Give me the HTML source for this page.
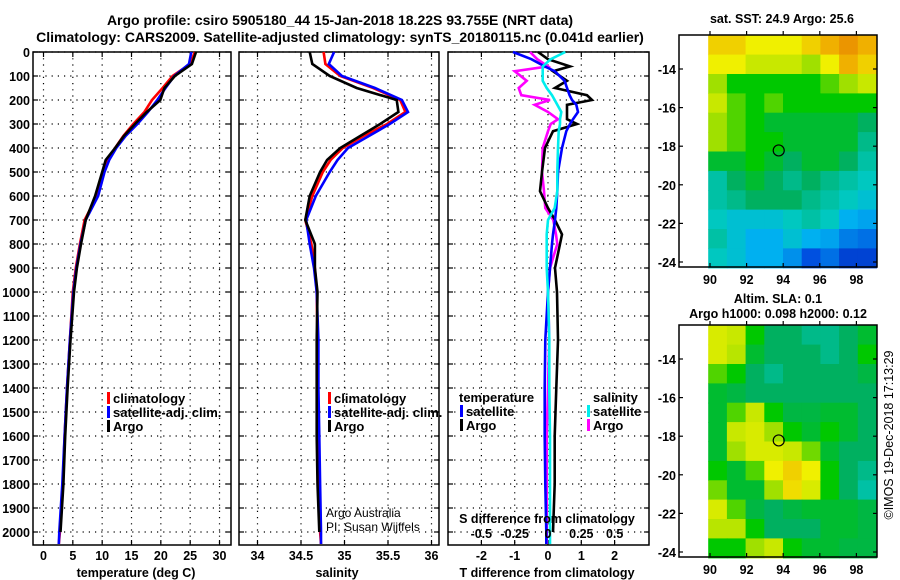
<!DOCTYPE html>
<html><head><meta charset="utf-8">
<style>
html,body{margin:0;padding:0;background:#fff;}
svg{display:block;font-family:"Liberation Sans",sans-serif;}
.b{font-weight:bold;}
</style></head>
<body>
<svg id="fig" width="900" height="580" viewBox="0 0 900 580" xmlns="http://www.w3.org/2000/svg">
<text x="340" y="25" text-anchor="middle" class="b" font-size="14">Argo profile: csiro 5905180_44 15-Jan-2018 18.22S 93.755E (NRT data)</text>
<text x="340" y="42" text-anchor="middle" class="b" font-size="14">Climatology: CARS2009. Satellite-adjusted climatology: synTS_20180115.nc (0.041d earlier)</text>
<g id="g"></g>
</svg>
<script>
// ---------- data ----------
const depths = [0,50,100,150,200,250,300,350,400,450,500,600,700,800,900,1000,1200,1400,1600,1800,2000,2050];
const tempClim = [25.8,25.0,22.0,20.3,18.5,17.2,15.3,13.6,12.2,11.0,10.2,9.1,7.0,6.2,5.5,5.0,4.5,4.0,3.6,3.3,2.8,2.6];
const tempSat  = [25.2,24.8,22.3,20.8,19.4,17.8,16.0,14.0,12.4,11.2,10.4,9.3,7.2,6.3,5.6,5.1,4.5,4.0,3.6,3.2,2.7,2.6];
const tempArgo = [26.0,25.3,22.4,20.6,19.9,17.6,15.6,13.7,12.2,10.6,10.0,8.8,7.2,6.4,5.7,5.2,4.6,4.1,3.7,3.4,2.9,null];
const salClim = [34.76,34.78,34.95,35.33,35.64,35.70,35.49,35.22,34.98,34.84,34.75,34.63,34.55,34.62,34.66,34.68,34.69,34.69,34.70,34.71,34.72,34.73];
const salSat  = [34.88,34.82,34.97,35.35,35.66,35.73,35.52,35.28,35.04,34.92,34.83,34.67,34.56,34.60,34.65,34.68,34.70,34.70,34.71,34.72,34.73,34.73];
const salArgo = [34.60,34.63,34.83,35.14,35.60,35.62,35.41,35.18,34.95,34.80,34.72,34.60,34.55,34.66,34.66,34.69,34.68,34.68,34.68,34.69,34.71,null];
const dDepths = [0,30,60,80,120,150,180,200,220,250,280,300,330,400,500,580,650,700,760,800,900,1000,1200,1400,1600,1800,2000,2050];
const dTsat  = [-1.05,-0.5,-0.1,0.2,0.5,0.57,0.65,0.72,0.85,0.9,0.75,0.66,0.55,0.42,0.3,0.28,0.25,0.21,0.15,0.12,0.06,0.0,-0.08,-0.1,-0.1,-0.08,-0.05,-0.05];
const dTargo = [-0.3,0.0,0.66,0.15,0.57,0.21,1.17,1.32,0.57,0.57,0.57,0.87,0.15,-0.09,-0.18,-0.24,0.0,0.21,0.42,0.36,0.21,0.27,0.3,0.25,0.2,0.2,0.15,null];
const dSargo = [-0.135,-0.08,0.0,-0.25,-0.16,-0.22,-0.2,0.015,-0.1,0.0,0.075,0.02,0.0,-0.04,-0.045,-0.03,-0.02,0.04,0.06,0.07,0.015,0.0,0.01,0.0,-0.01,-0.01,-0.01,-0.01];
const dSsat  = [0.13,0.02,-0.04,-0.04,-0.04,-0.01,0.03,0.05,0.07,0.1,0.09,0.09,0.08,0.075,0.07,0.07,0.05,0.0,-0.01,-0.01,-0.01,0.0,0.01,0.01,0.015,0.015,0.015,0.015];
const depthTicks = [0,100,200,300,400,500,600,700,800,900,1000,1100,1200,1300,1400,1500,1600,1700,1800,1900,2000];
const tTicks = [0,5,10,15,20,25,30];
const sTicks = [34,34.5,35,35.5,36];
const dtTicks = [-2,-1,0,1,2];
const dsTicks = [-0.5,-0.25,0,0.25,0.5];
const dsLabels = ["-0.5","-0.25","0","0.25","0.5"];
const latTicks = [-14,-16,-18,-20,-22,-24];
const lonTicks = [90,92,94,96,98];
const sstGrid = [
[0.8,0.8,0.75,0.75,0.75,0.8,0.85,0.9,0.85],
[0.75,0.75,0.7,0.7,0.7,0.65,0.75,0.85,0.8],
[0.65,0.55,0.55,0.55,0.55,0.55,0.6,0.65,0.7],
[0.7,0.6,0.55,0.6,0.55,0.55,0.55,0.55,0.55],
[0.65,0.6,0.55,0.5,0.5,0.5,0.5,0.5,0.45],
[0.65,0.6,0.55,0.55,0.5,0.5,0.5,0.5,0.42],
[0.5,0.5,0.55,0.5,0.45,0.5,0.5,0.45,0.4],
[0.4,0.45,0.5,0.45,0.42,0.45,0.42,0.4,0.38],
[0.4,0.42,0.45,0.45,0.45,0.42,0.4,0.38,0.35],
[0.38,0.35,0.35,0.35,0.38,0.4,0.38,0.3,0.28],
[0.4,0.35,0.3,0.3,0.35,0.3,0.28,0.22,0.2],
[0.38,0.35,0.3,0.3,0.25,0.15,0.2,0.12,0.12]];
const slaGrid = [
[0.72,0.7,0.55,0.45,0.45,0.42,0.42,0.45,0.5],
[0.72,0.68,0.5,0.45,0.45,0.45,0.42,0.45,0.55],
[0.6,0.55,0.45,0.42,0.45,0.45,0.45,0.45,0.48],
[0.5,0.48,0.45,0.45,0.45,0.45,0.45,0.45,0.45],
[0.5,0.6,0.7,0.55,0.48,0.48,0.5,0.5,0.45],
[0.5,0.7,0.72,0.65,0.55,0.5,0.55,0.5,0.45],
[0.5,0.65,0.72,0.72,0.7,0.62,0.5,0.45,0.45],
[0.55,0.5,0.6,0.75,0.8,0.75,0.55,0.45,0.42],
[0.62,0.5,0.5,0.65,0.78,0.72,0.55,0.45,0.4],
[0.72,0.6,0.48,0.45,0.48,0.5,0.5,0.5,0.48],
[0.68,0.68,0.55,0.45,0.45,0.45,0.5,0.5,0.48],
[0.55,0.55,0.65,0.7,0.55,0.5,0.5,0.48,0.48]];
const argoLon = 93.755, argoLat = -18.22;

// ---------- helpers ----------
const NS="http://www.w3.org/2000/svg";
const G=document.getElementById('g');
function mk(tag,attrs,parent){const e=document.createElementNS(NS,tag);for(const k in attrs)e.setAttribute(k,attrs[k]);(parent||G).appendChild(e);return e;}
function txt(x,y,s,size,anchor,bold,parent){const t=mk('text',{x:x,y:y,'font-size':size,'text-anchor':anchor||'middle'},parent);if(bold)t.setAttribute('font-weight','bold');t.textContent=s;return t;}
const yTop=52, yBot=545;
const yD = d => yTop + d*0.24;
const xT = t => 43.5 + t*5.867;
const xS = s => 301 + (s-34.5)*87;
const xDT = v => 548 + v*33.3;
const xDS = v => 548 + v*133.3;

function panel(name,x0,x1,gridX,showYLabels){
  const g=mk('g',{});
  
  
  depthTicks.forEach(d=>{const y=yD(d);
    mk('line',{x1:x0,x2:x1,y1:y,y2:y,stroke:'#000','stroke-width':1.2,'stroke-dasharray':'1.2,5'},g);
    mk('line',{x1:x0,x2:x0+5,y1:y,y2:y,stroke:'#000','stroke-width':1.2},g);
    mk('line',{x1:x1-5,x2:x1,y1:y,y2:y,stroke:'#000','stroke-width':1.2},g);
    if(showYLabels){const t=txt(30,y+5,String(d),12.5,'end',true,g);}
  });
  gridX.forEach(x=>{mk('line',{x1:x,x2:x,y1:yTop,y2:yBot,stroke:'#000','stroke-width':1.2,'stroke-dasharray':'1.2,5'},g);
    mk('line',{x1:x,x2:x,y1:yBot-5,y2:yBot,stroke:'#000','stroke-width':1.2},g);
    mk('line',{x1:x,x2:x,y1:yTop,y2:yTop+5,stroke:'#000','stroke-width':1.2},g);});
  mk('rect',{x:x0,y:yTop,width:x1-x0,height:yBot-yTop,fill:'none',stroke:'#000','stroke-width':1.5},g);
  return g;
}
function line(g,dep,vals,xf,color,name,w){
  let pts=[];dep.forEach((d,i)=>{if(vals[i]!==null&&vals[i]!==undefined)pts.push(xf(vals[i]).toFixed(1)+','+yD(d).toFixed(1));});
  const p=mk('polyline',{points:pts.join(' '),fill:'none',stroke:color,'stroke-width':w||2.6,'stroke-linejoin':'miter'},g);
  
  
}
function legendEntry(g,x,y,color,label,name){
  const e=mk('g',{},g);
  
  
  mk('rect',{x:x,y:y-11,width:3,height:12,fill:color},e);
  txt(x+6,y,label,13,'start',true,e);
}

// ---------- panel 1: temperature ----------
const p1=panel('temperature-panel',33,231,tTicks.map(xT),true);
line(p1,depths,tempClim,xT,'#f00','temp-climatology-line');
line(p1,depths,tempSat,xT,'#00f','temp-satellite-line');
line(p1,depths,tempArgo,xT,'#000','temp-argo-line');
tTicks.forEach(t=>txt(xT(t),560,String(t),12.5,'middle',true,p1));
txt(136,577,'temperature (deg C)',12.5,'middle',true,p1);
legendEntry(p1,107,403,'#f00','climatology','legend-entry-climatology');
legendEntry(p1,107,417,'#00f','satellite-adj. clim.','legend-entry-satellite-adj');
legendEntry(p1,107,431,'#000','Argo','legend-entry-argo');

// ---------- panel 2: salinity ----------
const p2=panel('salinity-panel',239,439,sTicks.map(xS),false);
line(p2,depths,salClim,xS,'#f00','sal-climatology-line');
line(p2,depths,salSat,xS,'#00f','sal-satellite-line');
line(p2,depths,salArgo,xS,'#000','sal-argo-line');
sTicks.forEach(s=>txt(xS(s),560,String(s),12.5,'middle',true,p2));
txt(337,577,'salinity',12.5,'middle',true,p2);
legendEntry(p2,328,403,'#f00','climatology','legend-entry-sal-climatology');
legendEntry(p2,328,417,'#00f','satellite-adj. clim.','legend-entry-sal-satellite-adj');
legendEntry(p2,328,431,'#000','Argo','legend-entry-sal-argo');
txt(326,517,'Argo Australia',12,'start',false,p2);
txt(326,531,'PI: Susan Wijffels',12,'start',false,p2);

// ---------- panel 3: differences ----------
const p3=panel('difference-panel',448,649,dtTicks.map(xDT),false);
line(p3,dDepths,dSargo,xDS,'#f0f','diff-sal-argo-line');
line(p3,dDepths,dTargo,xDT,'#000','diff-temp-argo-line');
line(p3,dDepths,dTsat,xDT,'#00f','diff-temp-satellite-line');
line(p3,dDepths,dSsat,xDS,'#0ee','diff-sal-satellite-line');
dtTicks.forEach(t=>txt(xDT(t),560,String(t),12.5,'middle',true,p3));
dsTicks.forEach((s,i)=>txt(xDS(s),538,dsLabels[i],12.5,'middle',true,p3));
txt(547,523,'S difference from climatology',12.5,'middle',true,p3);
txt(547,577,'T difference from climatology',12.5,'middle',true,p3);
txt(459,402,'temperature',13,'start',true,p3);
legendEntry(p3,460,416,'#00f','satellite','legend-entry-t-satellite');
legendEntry(p3,460,430,'#000','Argo','legend-entry-t-argo');
txt(593,402,'salinity',13,'start',true,p3);
legendEntry(p3,587,416,'#0ee','satellite','legend-entry-s-satellite');
legendEntry(p3,587,430,'#f0f','Argo','legend-entry-s-argo');

// ---------- maps ----------
const stops=[[0,[0,16,160]],[0.15,[0,80,224]],[0.3,[0,176,240]],[0.38,[0,200,192]],[0.45,[0,176,96]],[0.55,[0,200,0]],[0.65,[160,224,0]],[0.75,[240,240,0]],[0.85,[240,176,0]],[1,[224,96,0]]];
function cmap(v){for(let i=1;i<stops.length;i++){if(v<=stops[i][0]){const a=stops[i-1],b=stops[i];const f=(v-a[0])/(b[0]-a[0]);const c=a[1].map((x,k)=>Math.round(x+(b[1][k]-x)*f));return 'rgb('+c.join(',')+')';}}return 'rgb(224,96,0)';}
function mapPanel(name,top,grid){
  const bot=top+232;
  const xL=lon=>710+(lon-90)*18.3;
  const yL=lat=>top+34+(-14-lat)*19.3;
  const g=mk('g',{});
  
  
  const lon0=89.9,lon1=99.1,lat0=-12.25,lat1=-24.3;
  const nr=grid.length,nc=grid[0].length;
  const dLon=(lon1-lon0)/nc,dLat=(lat0-lat1)/nr;
  grid.forEach((row,r)=>row.forEach((v,c)=>{
    const x=xL(lon0+c*dLon),y=yL(lat0-r*dLat);
    const cell=mk('rect',{x:x.toFixed(1),y:y.toFixed(1),width:(dLon*18.3+0.6).toFixed(1),height:(dLat*19.3+0.6).toFixed(1),fill:cmap(v)},g);
    
    
  }));
  mk('rect',{x:679,y:top,width:198,height:232,fill:'none',stroke:'#000','stroke-width':1.5},g);
  latTicks.forEach(l=>{const y=yL(l);
    mk('line',{x1:679,x2:683,y1:y,y2:y,stroke:'#000','stroke-width':1.2},g);
    mk('line',{x1:873,x2:877,y1:y,y2:y,stroke:'#000','stroke-width':1.2},g);
    txt(676,y+5,String(l),12.5,'end',true,g);});
  lonTicks.forEach(l=>{const x=xL(l);
    mk('line',{x1:x,x2:x,y1:bot-4,y2:bot,stroke:'#000','stroke-width':1.2},g);
    mk('line',{x1:x,x2:x,y1:top-4,y2:top,stroke:'#000','stroke-width':1.2},g);
    txt(x,bot+17,String(l),12.5,'middle',true,g);});
  const c=mk('circle',{cx:xL(argoLon),cy:yL(argoLat),r:5.5,fill:'none',stroke:'#000','stroke-width':1.2},g);
  
  
  return g;
}
const m1=mapPanel('sst-map',35,sstGrid);
txt(782,23,'sat. SST: 24.9 Argo: 25.6',12.5,'middle',true,m1);
const m2=mapPanel('sla-map',325,slaGrid);
txt(778,303,'Altim. SLA: 0.1',12.5,'middle',true,m2);
txt(778,318,'Argo h1000: 0.098 h2000: 0.12',12.5,'middle',true,m2);
const cr=txt(0,0,'©IMOS 19-Dec-2018 17:13:29',12.5,'middle',false,m2);
cr.setAttribute('transform','translate(893,435) rotate(-90)');

</script>
</body></html>
